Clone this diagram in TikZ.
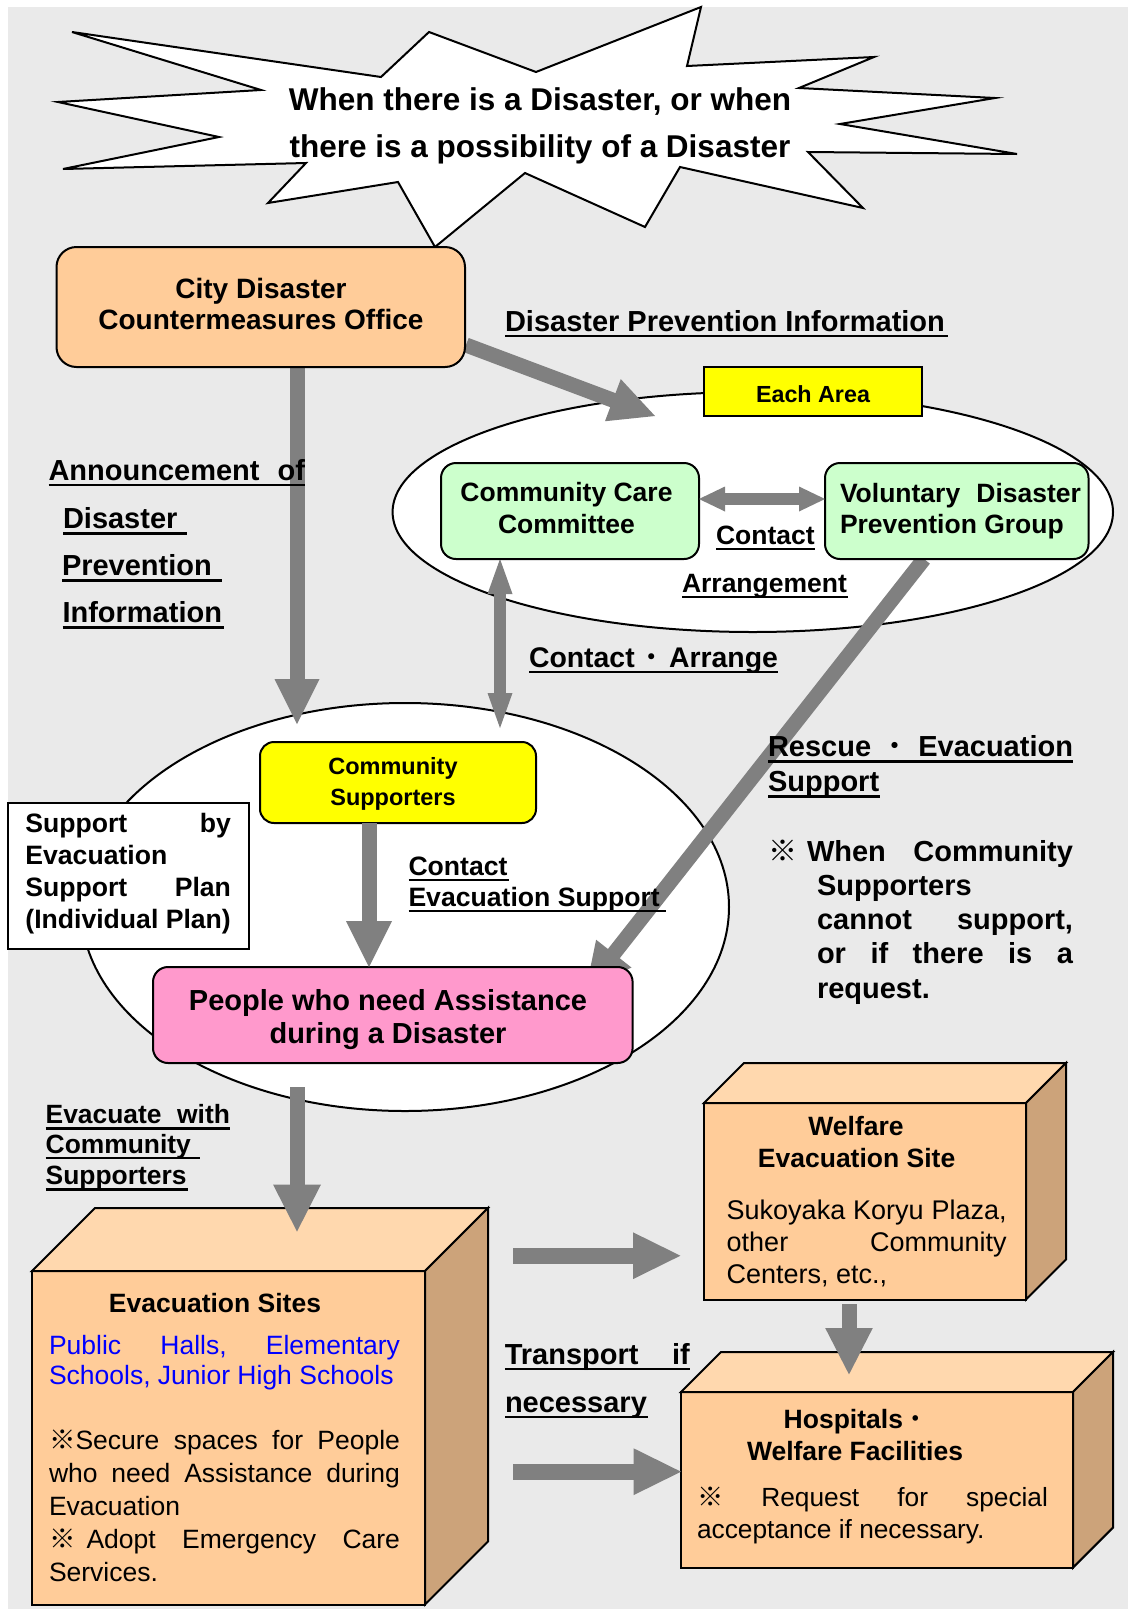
\documentclass[tikz,border=0pt]{standalone}
\usepackage{fontspec}
\setmainfont{Liberation Sans}
\newfontfamily\cjk{Noto Sans CJK JP}
\usetikzlibrary{calc,shapes.geometric}
\definecolor{bgg}{HTML}{EAEAEA}
\definecolor{peach}{HTML}{FFCC99}
\definecolor{peachtop}{HTML}{FFD8AE}
\definecolor{peachside}{HTML}{CCA37A}
\definecolor{mint}{HTML}{CCFFCC}
\definecolor{yel}{HTML}{FFFF00}
\definecolor{pinkb}{HTML}{FF99CC}
\definecolor{agray}{HTML}{808080}
\definecolor{bluet}{HTML}{0000FF}
\newcommand\fsb[1]{\fontsize{#1pt}{#1pt}\selectfont\bfseries}
\newcommand\fsr[1]{\fontsize{#1pt}{#1pt}\selectfont}
\newcommand\ulb[2]{\hbox to #1{#2}\llap{\rule[-6.2pt]{#1}{2.6pt}}}
\newcommand\mdot{{\cjk\mdseries ・}}
\newcommand\garrow[5]{%
  \path (#1) coordinate (gaS) (#2) coordinate (gaE);
  \path ($(gaE)!#5!(gaS)$) coordinate (gaB);
  \fill[agray] (gaE) -- ($(gaB)!#4!90:(gaE)$) -- ($(gaB)!#4!-90:(gaE)$) -- cycle;
  \draw[agray, line width=#3] (gaS) -- ($(gaB)!1pt!(gaE)$);
}
\newcommand\gdarrow[5]{%
  \path (#1) coordinate (gaS) (#2) coordinate (gaE);
  \path ($(gaE)!#5!(gaS)$) coordinate (gaB) ($(gaS)!#5!(gaE)$) coordinate (gaA);
  \fill[agray] (gaE) -- ($(gaB)!#4!90:(gaE)$) -- ($(gaB)!#4!-90:(gaE)$) -- cycle;
  \fill[agray] (gaS) -- ($(gaA)!#4!90:(gaS)$) -- ($(gaA)!#4!-90:(gaS)$) -- cycle;
  \draw[agray, line width=#3] ($(gaA)!1pt!(gaS)$) -- ($(gaB)!1pt!(gaE)$);
}
\pgfdeclarelayer{back}
\pgfdeclarelayer{mid}
\pgfsetlayers{back,mid,main}
\tikzset{
  box/.style={draw=black, line width=2pt, inner sep=0pt, outer sep=0pt},
  rbox/.style={box, rounded corners=#1},
  txt/.style={inner sep=0pt, outer sep=0pt, anchor=base},
  txtl/.style={inner sep=0pt, outer sep=0pt, anchor=base west},
  ell/.style={ellipse, draw=black, line width=2pt, fill=white, inner sep=0pt, outer sep=0pt},
}
\begin{document}
\begin{tikzpicture}[x=1pt,y=-1pt]
\useasboundingbox (0,0) rectangle (1128,1609);
\begin{pgfonlayer}{back}
\fill[white] (0,0) rectangle (1128,1609);
\fill[bgg] (8,7) rectangle (1128,1609);
\draw[fill=white,line width=2pt] (72,32) -- (381,77) -- (429,32) -- (536,72) -- (701,7) -- (687,66) -- (874,57) -- (799,88) -- (995,98) -- (840,124) -- (1017,154) -- (808,152) -- (863,208) -- (680,167) -- (645,227) -- (525,173) -- (435,247) -- (398,182) -- (268,203) -- (306,163) -- (63,169) -- (219,137) -- (58,102) -- (261,90) -- cycle;
\node[ell, minimum width=720.4pt, minimum height=240pt] (upell) at (752.8,512) {};
\node[ell, minimum width=648pt, minimum height=408pt] (loell) at (405,907) {};
\end{pgfonlayer}

% boxes
\node[rbox=20pt, fill=peach, minimum width=408.5pt, minimum height=120pt] (city) at (260.75,307) {};
\node[box, fill=yel, minimum width=217.5pt, minimum height=49pt] (area) at (812.75,391.5) {};
\node[rbox=15pt, fill=mint, minimum width=258pt, minimum height=96pt] (care) at (570,511) {};
\node[rbox=15pt, fill=mint, minimum width=263.5pt, minimum height=96pt] (vol) at (956.75,511) {};
\node[rbox=14pt, fill=yel, minimum width=276pt, minimum height=81pt] (sup) at (398,782.5) {};
\node[rbox=15pt, fill=pinkb, minimum width=479.6pt, minimum height=96pt] (peop) at (392.8,1015) {};
\node[box, fill=white, minimum width=240.7pt, minimum height=146pt] (supby) at (128.35,876) {};

% coordinates for connector ends
\coordinate (a1x) at (297,0);
\coordinate (a1e) at (297,724);
\coordinate (a2e) at (655,416);
\coordinate (a3y) at (0,499);
\coordinate (a4x) at (500,0);
\coordinate (a4e) at (500,728);
\coordinate (a5x) at (369,0);
\coordinate (a6x) at (924,0);
\coordinate (a6e) at (586,989);
\coordinate (a7s) at (297,1087);
\coordinate (a7e) at (297,1231.5);
\coordinate (a8s) at (513,1255.7);
\coordinate (a8e) at (680.4,1255.7);
\coordinate (a9s) at (513,1471.7);
\coordinate (a10s) at (849,1304);
\coordinate (a10e) at (849,1374.4);

\begin{pgfonlayer}{mid}
\garrow{city.south -| a1x}{a1e}{15pt}{22.5pt}{45pt}
\garrow{$(city.east)+(1,38)$}{a2e}{15pt}{22.5pt}{45pt}
\gdarrow{care.south -| a4x}{a4e}{12pt}{12.5pt}{35pt}
\garrow{vol.south -| a6x}{a6e}{15pt}{22.5pt}{45pt}
\end{pgfonlayer}
\gdarrow{care.east |- a3y}{vol.west |- a3y}{12pt}{12.5pt}{26pt}
\garrow{sup.south -| a5x}{peop.north -| a5x}{15pt}{23pt}{46pt}

% cubes
\node[box, fill=peach, minimum width=393pt, minimum height=333.5pt] (evac) at (228.5,1437.75) {};
\filldraw[fill=peachtop, line width=2pt] (evac.north west) -- ++(63,-63) -- ++(393,0) -- (evac.north east) -- cycle;
\filldraw[fill=peachside, line width=2pt] (evac.north east) -- ++(63,-63) -- ++(0,333.5) -- (evac.south east) -- cycle;
\node[box, fill=peach, minimum width=322pt, minimum height=196.5pt] (wel) at (865,1201.25) {};
\filldraw[fill=peachtop, line width=2pt] (wel.north west) -- ++(40,-40) -- ++(322,0) -- (wel.north east) -- cycle;
\filldraw[fill=peachside, line width=2pt] (wel.north east) -- ++(40,-40) -- ++(0,196.5) -- (wel.south east) -- cycle;
\node[box, fill=peach, minimum width=392pt, minimum height=175.6pt] (hos) at (877,1479.8) {};
\filldraw[fill=peachtop, line width=2pt] (hos.north west) -- ++(40,-40) -- ++(392,0) -- (hos.north east) -- cycle;
\filldraw[fill=peachside, line width=2pt] (hos.north east) -- ++(40,-40) -- ++(0,175.6) -- (hos.south east) -- cycle;

\garrow{a7s}{a7e}{15pt}{24pt}{47pt}
\garrow{a8s}{a8e}{16pt}{23.4pt}{47.4pt}
\garrow{a9s}{hos.west |- a9s}{16pt}{23.4pt}{47.4pt}
\garrow{a10s}{a10e}{15pt}{23.8pt}{46.4pt}

% texts
\node[txt] (st1) at (540,110) {\fsb{31.5}When there is a Disaster, or when};
\node[txt] (st2) at (540,157) {\fsb{31.5}there is a possibility of a Disaster};
\node[txt] (c1) at (261,298.5) {\fsb{28}City Disaster};
\node[txt] (c2) at (261,329.5) {\fsb{28}Countermeasures Office};
\node[txtl] (dpi) at (505,331) {\fsb{29}\ulb{443pt}{Disaster Prevention Information\hfil}};
\node[txt] (ea) at (813,402.5) {\fsb{23.3}Each Area};
\node[txt] (cc1) at (566.5,501.7) {\fsb{26.5}Community Care};
\node[txt] (cc2) at (566.5,533.3) {\fsb{26.5}Committee};
\node[txtl] (v1) at (840,502.7) {\fsb{26.5}\hbox to 241pt{Voluntary\hfil Disaster}};
\node[txtl] (v2) at (840,533.3) {\fsb{26.5}Prevention Group};
\node[txtl] (ct1) at (716,544) {\fsb{26.5}\ulb{99pt}{Contact\hfil}};
\node[txtl] (ar1) at (682,592) {\fsb{26.5}\ulb{166pt}{Arrangement\hfil}};
\node[txtl] (an1) at (48.5,480) {\fsb{29}\ulb{256.5pt}{Announcement\hfil of}};
\node[txtl] (an2) at (63,528.4) {\fsb{29}\ulb{124pt}{Disaster\hfil}};
\node[txtl] (an3) at (62,575.8) {\fsb{29}\ulb{160pt}{Prevention\hfil}};
\node[txtl] (an4) at (62.5,622.4) {\fsb{29}\ulb{161.5pt}{Information\hfil}};
\node[txtl] (ca) at (529,667) {\fsb{28.4}\ulb{249pt}{Contact\hfil\mdot\hfil Arrange}};
\node[txtl] (re1) at (768,756.5) {\fsb{29}\ulb{305pt}{Rescue\hfil\mdot\hfil Evacuation}};
\node[txtl] (re2) at (768,791.5) {\fsb{29}\ulb{112pt}{Support\hfil}};
\node[txtl] (w1) at (768,861) {\fsb{29}\hbox to 305pt{{\cjk ※}\hskip 10pt When\hfil Community}};
\node[txtl] (w2) at (817,895) {\fsb{29}Supporters};
\node[txtl] (w3) at (817,929.5) {\fsb{29}\hbox to 256pt{cannot\hfil support,}};
\node[txtl] (w4) at (817,963.5) {\fsb{29}\hbox to 256pt{or\hfil if\hfil there\hfil is\hfil a}};
\node[txtl] (w5) at (817,998) {\fsb{29}request.};
\node[txt] (s1) at (393,774.3) {\fsb{23.5}Community};
\node[txt] (s2) at (393,805) {\fsb{23.5}Supporters};
\node[txtl] (ct2) at (408.5,875) {\fsb{26.6}\ulb{100pt}{Contact\hfil}};
\node[txtl] (es) at (408.5,906) {\fsb{26.6}\ulb{257pt}{Evacuation Support\hfil}};
\node[txtl] (sb1) at (25.4,832.7) {\fsb{26.6}\hbox to 205.6pt{Support\hfil by}};
\node[txtl] (sb2) at (25.4,864.3) {\fsb{26.6}Evacuation};
\node[txtl] (sb3) at (25.4,896.7) {\fsb{26.6}\hbox to 205.6pt{Support\hfil Plan}};
\node[txtl] (sb4) at (25.4,928.3) {\fsb{26.6}(Individual Plan)};
\node[txt] (p1) at (388,1010) {\fsb{29}People who need Assistance};
\node[txt] (p2) at (388,1043.3) {\fsb{29}during a Disaster};
\node[txtl] (ev1) at (45.7,1123.5) {\fsb{26.4}\ulb{184.3pt}{Evacuate\hfil with}};
\node[txtl] (ev2) at (45.7,1153) {\fsb{26.4}\ulb{154pt}{Community\hfil}};
\node[txtl] (ev3) at (45.7,1184.6) {\fsb{26.4}\ulb{142pt}{Supporters\hfil}};
\node[txtl] (tr1) at (504.8,1364) {\fsb{29}\ulb{185pt}{Transport\hfil if}};
\node[txtl] (tr2) at (505,1412) {\fsb{29}\ulb{143pt}{necessary\hfil}};
\node[txt] (e0) at (215,1312) {\fsb{26.5}Evacuation Sites};
\node[txtl, text=bluet] (e1) at (49,1354) {\fsr{26.5}\hbox to 351pt{Public\hfil Halls,\hfil Elementary}};
\node[txtl, text=bluet] (e2) at (49,1384) {\fsr{26.5}Schools, Junior High Schools};
\node[txtl] (e3) at (49,1449.5) {\fsr{26.5}\hbox to 351pt{{\cjk ※}Secure\hfil spaces\hfil for\hfil People}};
\node[txtl] (e4) at (49,1482.5) {\fsr{26.5}\hbox to 351pt{who\hfil need\hfil Assistance\hfil during}};
\node[txtl] (e5) at (49,1515.5) {\fsr{26.5}Evacuation};
\node[txtl] (e6) at (49,1548.5) {\fsr{26.5}\hbox to 351pt{{\cjk ※}\hskip 11pt Adopt\hfil Emergency\hfil Care}};
\node[txtl] (e7) at (49,1581.5) {\fsr{26.5}Services.};
\node[txt] (wf1) at (856,1135.6) {\fsb{26.5}Welfare};
\node[txt] (wf2) at (856.6,1167.6) {\fsb{26.5}Evacuation Site};
\node[txtl] (wf3) at (726.7,1219.3) {\fsr{27}\hbox to 280pt{Sukoyaka\hfil Koryu\hfil Plaza,}};
\node[txtl] (wf4) at (726.7,1251.4) {\fsr{27}\hbox to 280pt{other\hfil Community}};
\node[txtl] (wf5) at (726.7,1283.5) {\fsr{27}Centers, etc.,};
\node[txtl] (h1) at (783.7,1428) {\fsb{26.5}Hospitals\mdot};
\node[txtl] (h2) at (747,1460.7) {\fsb{26.5}Welfare Facilities};
\node[txtl] (h3) at (697,1506.3) {\fsr{26.3}\hbox to 351pt{{\cjk ※}\hfil Request\hfil for\hfil special}};
\node[txtl] (h4) at (697,1538.4) {\fsr{26.3}acceptance if necessary.};
\end{tikzpicture}
\end{document}
